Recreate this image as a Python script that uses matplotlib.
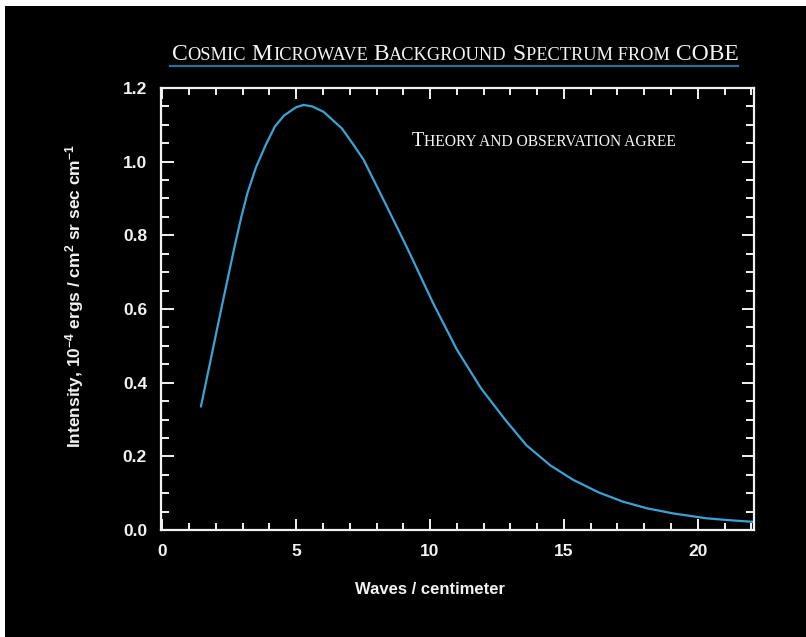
import matplotlib
matplotlib.use("Agg")
import matplotlib.pyplot as plt
from matplotlib.patches import Rectangle
from matplotlib.ticker import MultipleLocator

# ---- data ----
wavenumber = [1.44, 1.8, 2.2, 2.7, 2.95, 3.18, 3.5, 3.86, 4.2, 4.54, 5.0, 5.28, 5.6,
              6.03, 6.71, 7.1, 7.52, 8.34, 9.15, 10.12, 11.0, 11.9, 12.8, 13.6, 14.5,
              15.35, 16.3, 17.2, 18.1, 19.08, 20.3, 21.1, 22.1]
intensity = [0.335, 0.46, 0.60, 0.77, 0.85, 0.915, 0.985, 1.045, 1.095, 1.125, 1.148,
             1.154, 1.150, 1.135, 1.09, 1.05, 1.005, 0.885, 0.765, 0.615, 0.49, 0.385,
             0.30, 0.23, 0.175, 0.136, 0.102, 0.077, 0.059, 0.045, 0.032, 0.027, 0.022]
x_ticks = [0, 5, 10, 15, 20]
y_ticks = [0.0, 0.2, 0.4, 0.6, 0.8, 1.0, 1.2]
y_tick_labels = ["0.0", "0.2", "0.4", "0.6", "0.8", "1.0", "1.2"]

title_segments = [("C", True), ("OSMIC", False), (" M", True), ("ICROWAVE", False),
                  (" B", True), ("ACKGROUND", False), (" S", True),
                  ("PECTRUM FROM", False), (" COBE", True)]
note_segments = [("T", True), ("HEORY AND OBSERVATION AGREE", False)]
x_label = "Waves / centimeter"
y_label = r"Intensity, 10$^{-4}$ ergs / cm$^{2}$ sr sec cm$^{-1}$"

# ---- style ----
plt.rcParams['mathtext.fontset'] = 'custom'
plt.rcParams['mathtext.rm'] = 'Liberation Sans:bold'
plt.rcParams['mathtext.it'] = 'Liberation Sans:bold'
plt.rcParams['mathtext.bf'] = 'Liberation Sans:bold'

W, H = 806, 637
fig = plt.figure(figsize=(W / 100, H / 100), dpi=100, facecolor='black')
# white edges of the scanned picture
fig.patches.append(Rectangle((0, 1 - 6 / H), 1, 6 / H, transform=fig.transFigure,
                             facecolor='white', edgecolor='none', zorder=-1))
fig.patches.append(Rectangle((0, 0), 5 / W, 1, transform=fig.transFigure,
                             facecolor='white', edgecolor='none', zorder=-1))

ax = fig.add_axes([161 / W, 1 - 530 / H, (754 - 161) / W, (530 - 88) / H])
ax.set_facecolor('black')
ax.plot(wavenumber, intensity, color='#3aa3d6', lw=1.6, solid_capstyle='round',
        solid_joinstyle='round')
ax.set_xlim(-0.05, 22.1)
ax.set_ylim(0, 1.2)

for s in ax.spines.values():
    s.set_color('#f2f2f2')
    s.set_linewidth(1.6)

ax.set_xticks(x_ticks)
ax.set_yticks(y_ticks)
ax.set_yticklabels(y_tick_labels)
ax.xaxis.set_minor_locator(MultipleLocator(1))
ax.yaxis.set_minor_locator(MultipleLocator(0.05))
ax.tick_params(which='both', direction='in', top=True, right=True, colors='#f2f2f2',
               width=1.4)
ax.tick_params(which='major', length=8)
ax.tick_params(which='minor', length=5)
ax.tick_params(axis='y', which='major', length=9, pad=10)
ax.tick_params(axis='y', which='minor', length=6)
ax.tick_params(axis='x', which='major', pad=10)
for lab in ax.get_xticklabels() + ax.get_yticklabels():
    lab.set_fontfamily('Liberation Sans')
    lab.set_fontweight('bold')
    lab.set_fontsize(12.5)
    lab.set_color('#f2f2f2')

fig.text(430 / W, 1 - 589 / H, x_label, ha='center', va='center', color='#f2f2f2',
         fontsize=12, fontweight='bold', family='Liberation Sans')
fig.text(75 / W, 1 - 296 / H, y_label, ha='center', va='center', rotation=90,
         color='#f2f2f2', fontsize=12.5, fontweight='bold', family='Liberation Sans')

renderer = fig.canvas.get_renderer()


def small_caps(x0, ybase, segments, big, small, color='#f4f4f4'):
    xp = x0
    for s, isbig in segments:
        t = fig.text(xp / W, 1 - ybase / H, s, ha='left', va='baseline',
                     fontsize=big if isbig else small, color=color,
                     family='Liberation Serif')
        bb = t.get_window_extent(renderer)
        xp = bb.x1
    return xp


small_caps(172, 60, title_segments, 17, 13.2)
fig.add_artist(plt.Line2D([170 / W, 738 / W], [1 - 66 / H, 1 - 66 / H],
                          transform=fig.transFigure, color='#2f6f9e', lw=1.6))
small_caps(412, 146, note_segments, 14.5, 11.2)

fig.savefig('out.png', dpi=100, facecolor='black')
